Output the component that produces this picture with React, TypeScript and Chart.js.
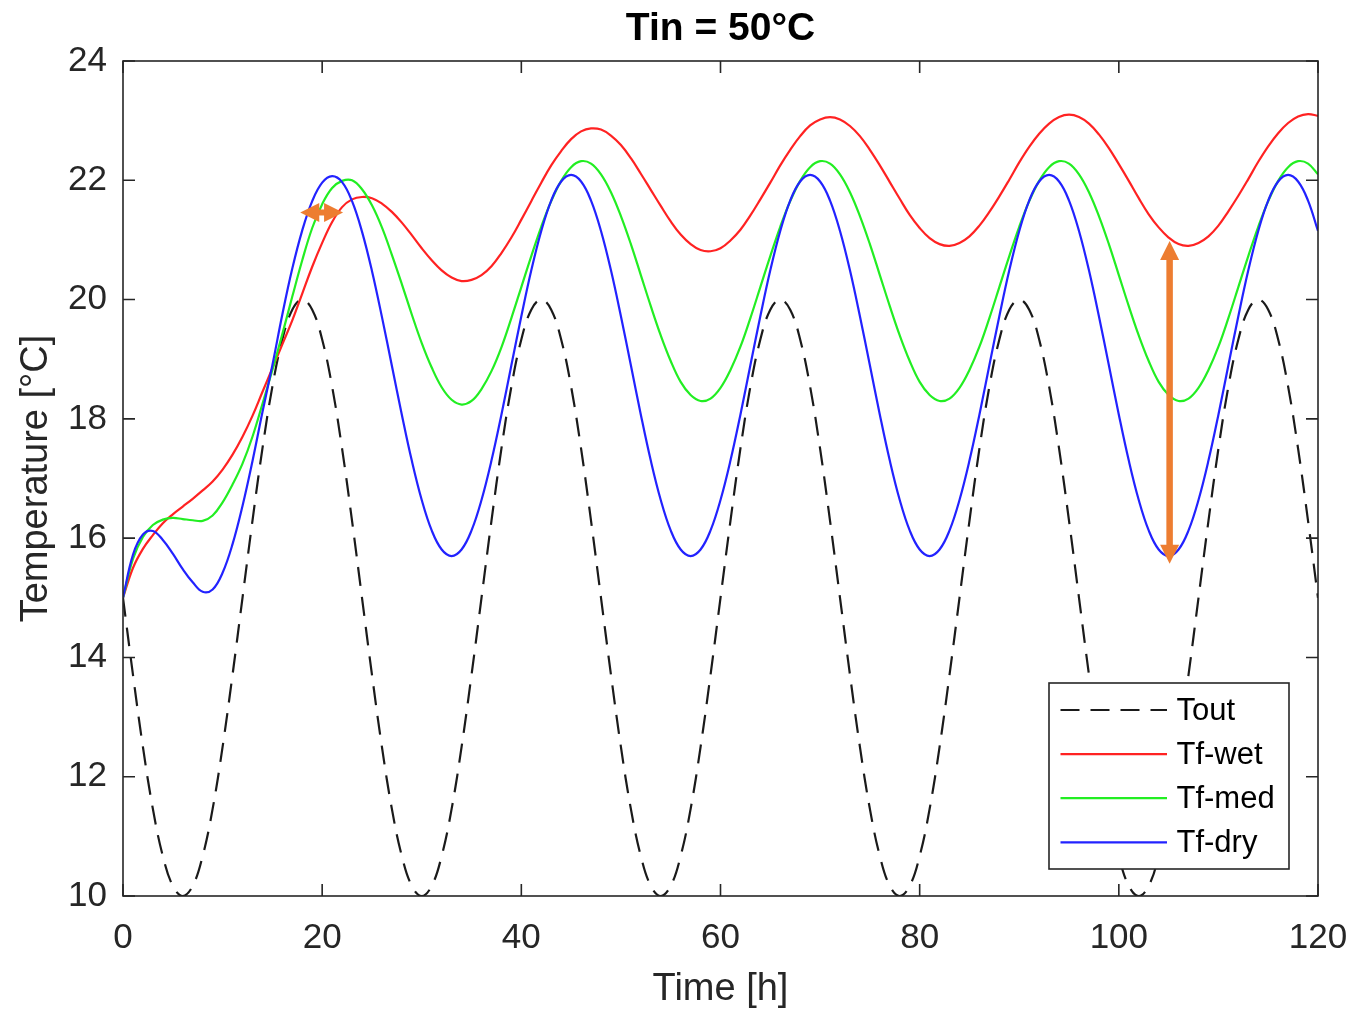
import React, { useEffect, useRef } from "react";
import { Chart, registerables } from "chart.js";

Chart.register(...registerables);

// ---------- data ----------
const hours = [
  0, 1, 2, 3, 4, 5, 6, 7, 8, 9, 10, 11, 12, 13, 14, 15, 16, 17, 18, 19, 20, 21, 22, 23,
  24, 25, 26, 27, 28, 29, 30, 31, 32, 33, 34, 35, 36, 37, 38, 39, 40, 41, 42, 43, 44, 45, 46, 47,
  48, 49, 50, 51, 52, 53, 54, 55, 56, 57, 58, 59, 60, 61, 62, 63, 64, 65, 66, 67, 68, 69, 70, 71,
  72, 73, 74, 75, 76, 77, 78, 79, 80, 81, 82, 83, 84, 85, 86, 87, 88, 89, 90, 91, 92, 93, 94, 95,
  96, 97, 98, 99, 100, 101, 102, 103, 104, 105, 106, 107, 108, 109, 110, 111, 112, 113, 114, 115, 116, 117, 118, 119,
  120,
];

const tOut = [
  15, 13.71, 12.5, 11.46, 10.67, 10.17, 10, 10.17, 10.67, 11.46, 12.5, 13.71, 15, 16.29, 17.5, 18.54, 19.33, 19.83, 20, 19.83, 19.33, 18.54, 17.5, 16.29,
  15, 13.71, 12.5, 11.46, 10.67, 10.17, 10, 10.17, 10.67, 11.46, 12.5, 13.71, 15, 16.29, 17.5, 18.54, 19.33, 19.83, 20, 19.83, 19.33, 18.54, 17.5, 16.29,
  15, 13.71, 12.5, 11.46, 10.67, 10.17, 10, 10.17, 10.67, 11.46, 12.5, 13.71, 15, 16.29, 17.5, 18.54, 19.33, 19.83, 20, 19.83, 19.33, 18.54, 17.5, 16.29,
  15, 13.71, 12.5, 11.46, 10.67, 10.17, 10, 10.17, 10.67, 11.46, 12.5, 13.71, 15, 16.29, 17.5, 18.54, 19.33, 19.83, 20, 19.83, 19.33, 18.54, 17.5, 16.29,
  15, 13.71, 12.5, 11.46, 10.67, 10.17, 10, 10.17, 10.67, 11.46, 12.5, 13.71, 15, 16.29, 17.5, 18.54, 19.33, 19.83, 20, 19.83, 19.33, 18.54, 17.5, 16.29,
  15,
];

const tfWet = [
  15.0, 15.5, 15.82, 16.05, 16.25, 16.4, 16.53, 16.66, 16.8, 16.95, 17.15, 17.4, 17.7, 18.05, 18.45, 18.85, 19.25, 19.65, 20.1, 20.55, 20.95, 21.3, 21.55, 21.68,
  21.72, 21.7, 21.61, 21.47, 21.29, 21.08, 20.86, 20.66, 20.49, 20.37, 20.31, 20.33, 20.41, 20.56, 20.78, 21.04, 21.34, 21.65, 21.96, 22.25, 22.49, 22.69, 22.82, 22.87,
  22.85, 22.75, 22.59, 22.37, 22.11, 21.84, 21.57, 21.31, 21.09, 20.93, 20.83, 20.81, 20.86, 20.99, 21.17, 21.41, 21.68, 21.96, 22.25, 22.51, 22.74, 22.92, 23.02, 23.06,
  23.02, 22.91, 22.74, 22.51, 22.25, 21.97, 21.69, 21.42, 21.2, 21.03, 20.93, 20.9, 20.95, 21.06, 21.24, 21.47, 21.73, 22.01, 22.3, 22.56, 22.78, 22.95, 23.06, 23.1,
  23.06, 22.95, 22.77, 22.54, 22.27, 21.99, 21.7, 21.43, 21.21, 21.04, 20.93, 20.9, 20.95, 21.06, 21.24, 21.48, 21.74, 22.02, 22.31, 22.57, 22.79, 22.96, 23.07, 23.11,
  23.08,
];

const tfMed = [
  15.0, 15.65, 16.02, 16.22, 16.31, 16.34, 16.32, 16.3, 16.29, 16.38, 16.6, 16.9, 17.25, 17.7, 18.25, 18.82, 19.42, 20.05, 20.66, 21.2, 21.6, 21.87, 21.99, 22.0,
  21.85, 21.58, 21.21, 20.75, 20.26, 19.75, 19.27, 18.86, 18.53, 18.32, 18.24, 18.3, 18.5, 18.8, 19.2, 19.69, 20.21, 20.73, 21.22, 21.65, 21.99, 22.22, 22.32, 22.28,
  22.1, 21.8, 21.4, 20.93, 20.41, 19.89, 19.4, 18.97, 18.62, 18.4, 18.3, 18.34, 18.52, 18.82, 19.21, 19.69, 20.21, 20.73, 21.22, 21.65, 21.99, 22.22, 22.32, 22.28,
  22.1, 21.8, 21.4, 20.93, 20.41, 19.89, 19.4, 18.97, 18.62, 18.4, 18.3, 18.34, 18.52, 18.82, 19.21, 19.69, 20.21, 20.73, 21.22, 21.65, 21.99, 22.22, 22.32, 22.28,
  22.1, 21.8, 21.4, 20.93, 20.41, 19.89, 19.4, 18.97, 18.62, 18.4, 18.3, 18.34, 18.52, 18.82, 19.21, 19.69, 20.21, 20.73, 21.22, 21.65, 21.99, 22.22, 22.32, 22.28,
  22.1,
];

const tfDry = [
  15.0, 15.72, 16.06, 16.12, 15.97, 15.74, 15.48, 15.26, 15.1, 15.14, 15.42, 15.9, 16.54, 17.29, 18.11, 18.9, 19.75, 20.52, 21.16, 21.65, 21.96, 22.07, 21.97, 21.65,
  21.14, 20.48, 19.71, 18.89, 18.07, 17.3, 16.64, 16.13, 15.81, 15.7, 15.81, 16.13, 16.64, 17.3, 18.07, 18.9, 19.72, 20.49, 21.15, 21.66, 21.98, 22.09, 21.98, 21.66,
  21.15, 20.49, 19.72, 18.9, 18.07, 17.3, 16.64, 16.13, 15.81, 15.7, 15.81, 16.13, 16.64, 17.3, 18.07, 18.9, 19.72, 20.49, 21.15, 21.66, 21.98, 22.09, 21.98, 21.66,
  21.15, 20.49, 19.72, 18.9, 18.07, 17.3, 16.64, 16.13, 15.81, 15.7, 15.81, 16.13, 16.64, 17.3, 18.07, 18.9, 19.72, 20.49, 21.15, 21.66, 21.98, 22.09, 21.98, 21.66,
  21.15, 20.49, 19.72, 18.9, 18.07, 17.3, 16.64, 16.13, 15.81, 15.7, 15.81, 16.13, 16.64, 17.3, 18.07, 18.9, 19.72, 20.49, 21.15, 21.66, 21.98, 22.09, 21.98, 21.66,
  21.15,
];

const xTicks = [0, 20, 40, 60, 80, 100, 120];
const yTicks = [10, 12, 14, 16, 18, 20, 22, 24];
const seriesNames = ["Tout", "Tf-wet", "Tf-med", "Tf-dry"];
const chartTitle = "Tin = 50°C";
const xTitle = "Time [h]";
const yTitle = "Temperature [°C]";

// annotation arrows, in data units
const lagArrow = { tStart: 17.8, tEnd: 22.1, temp: 21.46 };
const ampArrow = { t: 105.1, low: 15.57, high: 20.98 };

// ---------- styles ----------
const FONT = "'Liberation Sans', Arial, Helvetica, sans-serif";
const AXIS_COLOR = "#262626";
const ORANGE = "#ED7D31";
const COLORS = ["#1a1a1a", "#ff2222", "#22ee22", "#2222ff"];
const DASH = [19, 11];

const toPoints = (vals: number[]) => hours.map((h, i) => ({ x: h, y: vals[i] }));

function drawArrow(
  ctx: CanvasRenderingContext2D,
  x1: number, y1: number, x2: number, y2: number,
  shaftW: number, headLen: number, headHalf: number
) {
  const dx = x2 - x1, dy = y2 - y1;
  const L = Math.hypot(dx, dy);
  const ux = dx / L, uy = dy / L;
  const nx = -uy, ny = ux;
  ctx.fillStyle = ORANGE;
  const sx1 = x1 + ux * headLen * 0.9, sy1 = y1 + uy * headLen * 0.9;
  const sx2 = x2 - ux * headLen * 0.9, sy2 = y2 - uy * headLen * 0.9;
  ctx.beginPath();
  ctx.moveTo(sx1 + nx * shaftW / 2, sy1 + ny * shaftW / 2);
  ctx.lineTo(sx2 + nx * shaftW / 2, sy2 + ny * shaftW / 2);
  ctx.lineTo(sx2 - nx * shaftW / 2, sy2 - ny * shaftW / 2);
  ctx.lineTo(sx1 - nx * shaftW / 2, sy1 - ny * shaftW / 2);
  ctx.closePath();
  ctx.fill();
  const head = (tx: number, ty: number, dirx: number, diry: number) => {
    const bx = tx - dirx * headLen, by = ty - diry * headLen;
    ctx.beginPath();
    ctx.moveTo(tx, ty);
    ctx.lineTo(bx + nx * headHalf, by + ny * headHalf);
    ctx.lineTo(bx - nx * headHalf, by - ny * headHalf);
    ctx.closePath();
    ctx.fill();
  };
  head(x2, y2, ux, uy);
  head(x1, y1, -ux, -uy);
}

const decorPlugin = {
  id: "matlabDecor",
  afterDatasetsDraw(chart: any) {
    const { ctx, chartArea: a, scales } = chart;
    const x = scales.x, y = scales.y;
    ctx.save();

    drawArrow(
      ctx,
      x.getPixelForValue(lagArrow.tStart), y.getPixelForValue(lagArrow.temp),
      x.getPixelForValue(lagArrow.tEnd), y.getPixelForValue(lagArrow.temp),
      6, 19, 9.5
    );
    drawArrow(
      ctx,
      x.getPixelForValue(ampArrow.t), y.getPixelForValue(ampArrow.high),
      x.getPixelForValue(ampArrow.t), y.getPixelForValue(ampArrow.low),
      6.5, 19, 9.5
    );

    ctx.strokeStyle = AXIS_COLOR;
    ctx.lineWidth = 1.6;
    ctx.setLineDash([]);
    ctx.strokeRect(a.left, a.top, a.right - a.left, a.bottom - a.top);
    const tl = 12;
    ctx.beginPath();
    xTicks.forEach((v) => {
      const px = x.getPixelForValue(v);
      ctx.moveTo(px, a.bottom); ctx.lineTo(px, a.bottom - tl);
      ctx.moveTo(px, a.top); ctx.lineTo(px, a.top + tl);
    });
    yTicks.forEach((v) => {
      const py = y.getPixelForValue(v);
      ctx.moveTo(a.left, py); ctx.lineTo(a.left + tl, py);
      ctx.moveTo(a.right, py); ctx.lineTo(a.right - tl, py);
    });
    ctx.stroke();

    const lw = 240, lh = 186;
    const lx = a.right - 29 - lw, ly = a.bottom - 27 - lh;
    ctx.fillStyle = "#ffffff";
    ctx.fillRect(lx, ly, lw, lh);
    ctx.strokeStyle = AXIS_COLOR;
    ctx.lineWidth = 1.6;
    ctx.strokeRect(lx, ly, lw, lh);
    const datasets = chart.data.datasets;
    ctx.font = `31px ${FONT}`;
    ctx.textAlign = "left";
    ctx.textBaseline = "middle";
    datasets.forEach((ds: any, i: number) => {
      const ry = ly + 27 + i * 44.1;
      ctx.strokeStyle = ds.borderColor;
      ctx.lineWidth = 2.2;
      ctx.setLineDash(ds.borderDash || []);
      ctx.beginPath();
      ctx.moveTo(lx + 11.5, ry);
      ctx.lineTo(lx + 118, ry);
      ctx.stroke();
      ctx.setLineDash([]);
      ctx.fillStyle = "#000000";
      ctx.fillText(ds.label, lx + 127.5, ry + 1);
    });

    const cx = (a.left + a.right) / 2;
    ctx.fillStyle = "#000000";
    ctx.textAlign = "center";
    ctx.textBaseline = "alphabetic";
    ctx.font = `bold 39px ${FONT}`;
    ctx.fillText(chartTitle, cx, 40);

    ctx.fillStyle = AXIS_COLOR;
    ctx.font = `38px ${FONT}`;
    ctx.fillText(xTitle, cx, 1000);

    ctx.save();
    ctx.translate(47, (a.top + a.bottom) / 2);
    ctx.rotate(-Math.PI / 2);
    ctx.fillText(yTitle, 0, 0);
    ctx.restore();

    ctx.restore();
  },
};

export default function App() {
  const canvasRef = useRef<HTMLCanvasElement | null>(null);

  useEffect(() => {
    if (!canvasRef.current) return;
    const series = [tOut, tfWet, tfMed, tfDry];
    const chart = new Chart(canvasRef.current, {
      type: "line",
      data: {
        datasets: series.map((vals, i) => ({
          label: seriesNames[i],
          data: toPoints(vals),
          borderColor: COLORS[i],
          backgroundColor: COLORS[i],
          borderWidth: 2.2,
          borderDash: i === 0 ? DASH : [],
          pointRadius: 0,
          pointHoverRadius: 0,
          tension: 0.4,
          fill: false,
          order: 4 - i,
        })),
      },
      options: {
        responsive: false,
        maintainAspectRatio: false,
        animation: false,
        devicePixelRatio: 1,
        layout: { padding: { left: 0, right: 28, top: 61, bottom: 0 } },
        plugins: {
          legend: { display: false },
          title: { display: false },
          tooltip: { enabled: false },
        },
        scales: {
          x: {
            type: "linear",
            min: 0,
            max: 120,
            grid: { display: false, drawTicks: false },
            border: { display: false },
            afterBuildTicks: (s: any) => {
              s.ticks = xTicks.map((v) => ({ value: v }));
            },
            ticks: {
              color: AXIS_COLOR,
              font: { family: FONT, size: 35 },
              padding: 21,
              maxRotation: 0,
              autoSkip: false,
            },
            afterFit: (s: any) => {
              s.height = 120;
              s.paddingLeft = 0;
              s.paddingRight = 0;
            },
          },
          y: {
            type: "linear",
            min: 10,
            max: 24,
            grid: { display: false, drawTicks: false },
            border: { display: false },
            afterBuildTicks: (s: any) => {
              s.ticks = yTicks.map((v) => ({ value: v }));
            },
            ticks: {
              color: AXIS_COLOR,
              font: { family: FONT, size: 35 },
              padding: 16,
              autoSkip: false,
            },
            afterFit: (s: any) => {
              s.width = 123;
              s.paddingTop = 0;
              s.paddingBottom = 0;
            },
          },
        },
      },
      plugins: [decorPlugin],
    });
    return () => chart.destroy();
  }, []);

  return (
    <div
      style={{
        position: "fixed",
        left: 0,
        top: 0,
        width: 1346,
        height: 1016,
        background: "#ffffff",
        overflow: "hidden",
      }}
    >
      <canvas ref={canvasRef} width={1346} height={1016} style={{ display: "block", width: 1346, height: 1016 }} />
    </div>
  );
}
